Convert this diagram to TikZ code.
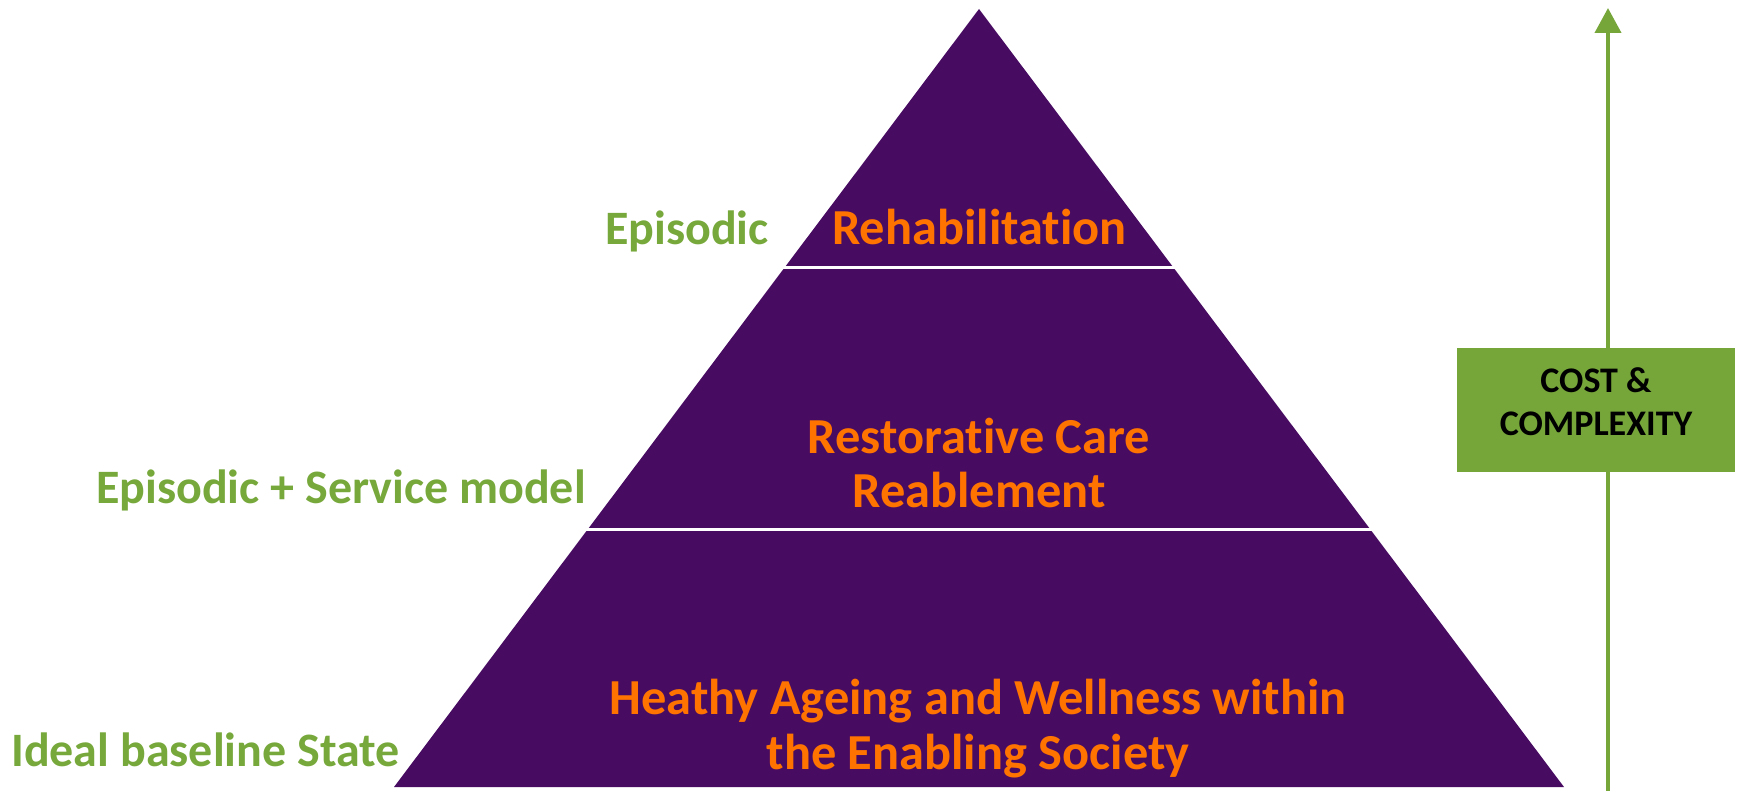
\documentclass[tikz,border=0pt]{standalone}
\usepackage{fontspec}
\setmainfont{Carlito}[Ligatures=NoCommon]
\usetikzlibrary{arrows.meta}
\definecolor{pyrpurple}{HTML}{480B62}
\definecolor{pyrorange}{HTML}{FF7400}
\definecolor{pyrgreen}{HTML}{77A83B}
\definecolor{boxgreen}{HTML}{76A63A}
\tikzset{
  tiertext/.style={text=pyrorange, font=\fontsize{25.2}{29}\selectfont\bfseries, anchor=base, inner sep=0pt},
  sidetext/.style={text=pyrgreen, font=\fontsize{24}{28}\selectfont\bfseries, anchor=base, inner sep=0pt},
  divider/.style={draw=white, line width=1.5pt},
  costbox/.style={fill=boxgreen, minimum width=139pt, minimum height=62pt, inner sep=0pt},
  costtext/.style={inner sep=0pt, align=center, font=\fontsize{18}{21.8}\selectfont\bfseries, text=black},
  costarrow/.style={draw=boxgreen, line width=2pt, -{Triangle[width=13pt,length=12.5pt]}}
}
\begin{document}
\begin{tikzpicture}[x=0.5pt,y=-0.5pt]
\useasboundingbox (0,0) rectangle (1742,791);
% pyramid
\coordinate (apex) at (979,9);
\coordinate (bl) at (394,787);
\coordinate (br) at (1564,787);
\fill[pyrpurple] (apex) -- (br) -- (bl) -- cycle;
\draw[divider] (760,268) -- (1200,268);
\draw[divider] (560,529) -- (1400,529);
% tier labels
\node[tiertext] (rehab) at (979.5,245) {Rehabilitation};
\node[tiertext] (rest1) at (979,453) {Restorative Care};
\node[tiertext] (rest2) at (979,508) {Reablement};
\node[tiertext] (well1) at (978,714) {Heathy Ageing and Wellness within};
\node[tiertext] (well2) at (978,769) {the Enabling Society};
% side labels
\node[sidetext] (epi) at (687,245) {Episodic};
\node[sidetext] (episerv) at (341,503) {Episodic + Service model};
\node[sidetext] (ideal) at (205.5,766) {Ideal baseline State};
% cost arrow
\coordinate (abot) at (1608,791);
\coordinate (atop) at (1608,8);
\draw[costarrow] (abot) -- (atop);
\node[costbox] (cost) at (1596,410) {};
\node[costtext] (costlbl) at (1596,401.5) {COST \&\\COMPLEXITY};
\end{tikzpicture}
\end{document}
